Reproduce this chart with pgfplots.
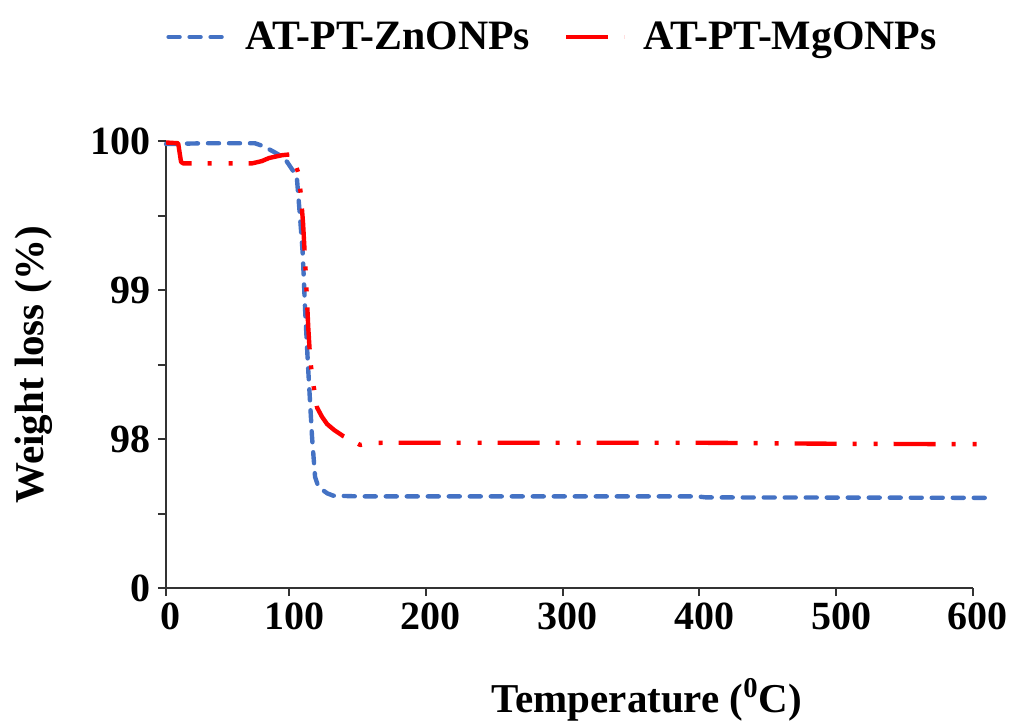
\documentclass[border=0pt]{standalone}
\usepackage{fontspec}
\setmainfont{Liberation Serif}
\usepackage{pgfplots}
\pgfplotsset{compat=1.18}
\definecolor{zblue}{HTML}{4472C4}
\definecolor{mred}{HTML}{FF0000}
\begin{document}
\begin{tikzpicture}
\useasboundingbox (-83pt,-66pt) rectangle (423.5pt,294pt);
\begin{axis}[
  at={(0,0)}, anchor=south west,
  scale only axis, width=403.5pt, height=223.5pt,
  xmin=10, xmax=600, ymin=97, ymax=100,
  clip=false,
  axis lines*=left,
  axis line style={line width=1pt, color=black!80},
  tick style={line width=1pt, color=black!80},
  tick align=outside,
  major tick length=4pt, minor tick length=4pt,
  xtick={10,100,200,300,400,500,600},
  xticklabels={0,100,200,300,400,500,600},
  ytick={97,98,99,100}, yticklabels={0,98,99,100},
  minor ytick={97.5,98.5,99.5},
  tick label style={font=\fontsize{20}{23}\selectfont\bfseries},
  xticklabel style={xshift=2.5pt},
  /pgf/number format/assume math mode=true,
  xlabel={Temperature (\textsuperscript{0}C)},
  ylabel={Weight loss (\%)},
  label style={font=\fontsize{20.5}{24}\selectfont\bfseries},
  xlabel style={at={(axis description cs:0.596,-0.25)}, anchor=center},
  ylabel style={at={(axis description cs:-0.1636,0.5)}, anchor=center},
  legend columns=2,
  legend style={at={(axis description cs:0.0,1.2327)}, anchor=west, draw=none, fill=none, inner sep=0pt,
    font=\fontsize{20.9}{24}\selectfont\bfseries,
    /tikz/every odd column/.append style={column sep=6.5pt},
    /tikz/every even column/.append style={column sep=15pt}},
  legend image code/.code={\draw[#1] (0pt,0pt) -- (29pt,0pt);},
]
\addplot[zblue, line width=2.2pt, line cap=round, line join=round, dash pattern=on 5.5pt off 5pt] coordinates {
(10,99.98) (40,99.985) (75,99.985) (81,99.966) (88.3,99.93) (94,99.90) (98.5,99.86) (102.9,99.80)
(105.8,99.74) (108,99.49) (110,99.24) (111.7,98.87) (113.9,98.48) (116.8,98.01) (119,97.745)
(121,97.69) (124.1,97.66) (128,97.635) (132.2,97.62) (150,97.615) (250,97.615) (398,97.615)
(405,97.608) (500,97.607) (608.8,97.605)
};
\addlegendentry{AT-PT-ZnONPs}
\addplot[mred, line width=2.2pt, line cap=butt, line join=round, dash pattern=on 21pt off 8pt on 2pt off 8.5pt on 2pt off 8pt] coordinates {
(10,99.99) (18.9,99.985) (21,99.86) (22.5,99.85) (73,99.85) (80,99.865) (85.4,99.886) (95,99.905)
(100.7,99.91) (104,99.86) (106.6,99.79) (108.5,99.65) (110.2,99.45) (111.7,99.20) (113,98.95)
(114,98.75) (115,98.60) (116.1,98.48) (118,98.35) (120.5,98.21) (124,98.15) (127.8,98.10)
(133,98.06) (139.5,98.02) (146,97.99) (152,97.96) (159,97.973) (170,97.975) (400,97.975)
(500,97.968) (608.8,97.965)
};
\addlegendentry{AT-PT-MgONPs}
\end{axis}
\end{tikzpicture}
\end{document}
